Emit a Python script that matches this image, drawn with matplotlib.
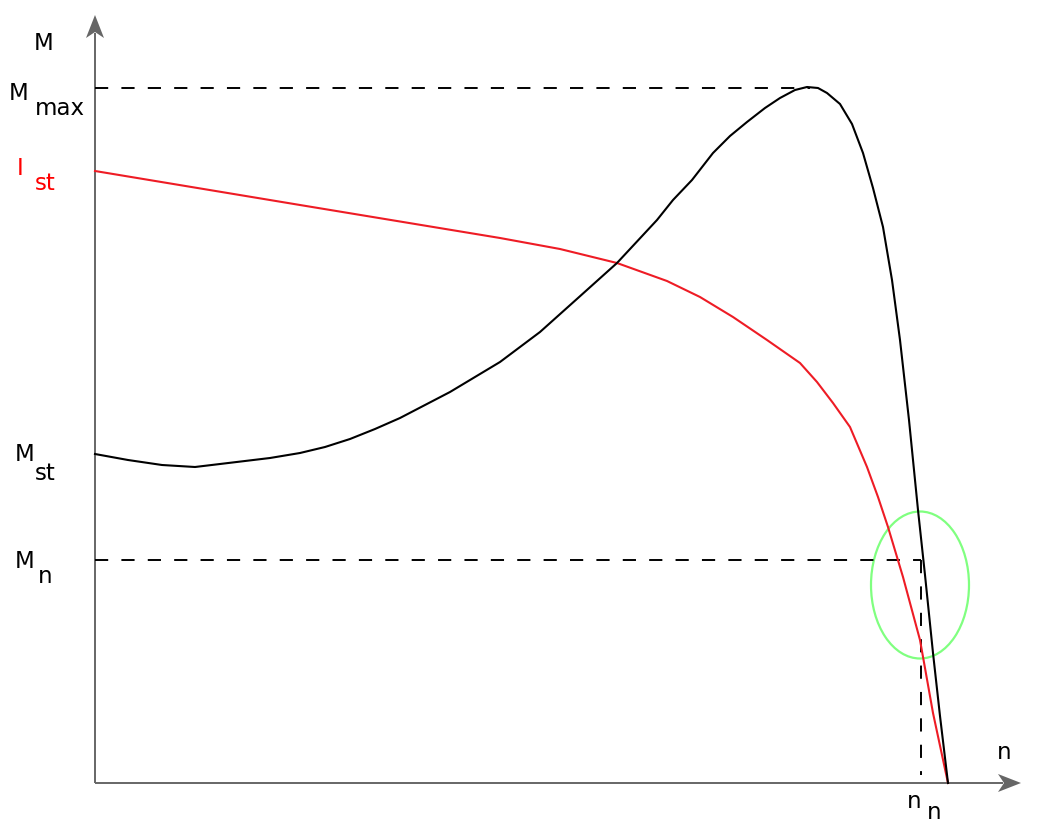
import matplotlib
matplotlib.use("Agg")
import matplotlib.pyplot as plt
from matplotlib.patches import Ellipse, Polygon

plt.rcParams['font.family'] = ['DejaVu Sans']
plt.rcParams['lines.scale_dashes'] = False

# ---- data (speed n, torque M / current I) ----
torque_n = [0, 33, 67, 100, 150, 175, 205, 230, 255, 280, 305, 355, 405, 445,
            483, 522, 562, 578, 597, 618, 635, 652, 670, 685, 700, 712, 723,
            732, 745, 757, 768, 778, 788, 797, 805, 814, 823, 830, 838, 845, 853]
torque_M = [329, 323, 318, 316, 322, 325, 330, 336, 344, 354, 365, 391, 421, 451,
            485, 520, 563, 583, 603, 630, 647, 661, 675, 685, 693, 696, 695,
            690, 679, 659, 630, 595, 556, 503, 443, 363, 273, 208, 130, 67, 0]

current_n = [0, 205, 405, 465, 522, 572, 605, 638, 672, 705, 722, 738, 755,
             772, 783, 793, 808, 825, 838, 853]
current_M = [612, 578, 545, 534, 520, 502, 486, 466, 443, 420, 401, 380, 356,
             316, 286, 256, 206, 143, 70, 0]

M_max = 695
n_at_max = 715
M_n = 223
n_n = 826
n_axis_end = 926
M_axis_end = 768

fig = plt.figure(figsize=(10.39, 8.26), dpi=100)
ax = fig.add_axes([0, 0, 1, 1])
ax.set_xlim(-95, 944)
ax.set_ylim(-43, 783)
ax.axis('off')

def px(x, y):
    # convert a pixel position of the reference into data coordinates
    return x - 95, 783 - y

axis_col = '#666666'
ax.plot([0, n_axis_end - 18], [0, 0], color=axis_col, lw=1.4, solid_capstyle='butt')
ax.plot([0, 0], [0, M_axis_end - 18], color=axis_col, lw=1.4, solid_capstyle='butt')
ax.add_patch(Polygon([(n_axis_end, 0), (n_axis_end - 23, 9), (n_axis_end - 17, 0),
                      (n_axis_end - 23, -9)], closed=True, color=axis_col, lw=0))
ax.add_patch(Polygon([(0, M_axis_end), (9, M_axis_end - 23), (0, M_axis_end - 17),
                      (-9, M_axis_end - 23)], closed=True, color=axis_col, lw=0))

dash = (0, (9.5, 9.5))
ax.plot([0, n_at_max], [M_max, M_max], color='black', lw=1.4, linestyle=dash)
ax.plot([0, n_n], [M_n, M_n], color='black', lw=1.4, linestyle=dash)
ax.plot([n_n, n_n], [M_n, 8], color='black', lw=1.4, linestyle=dash)

ax.plot(current_n, current_M, color='#EE1C25', lw=1.5, solid_joinstyle='round')
ax.plot(torque_n, torque_M, color='black', lw=1.5, solid_joinstyle='round')

ax.add_patch(Ellipse((825, 198), 98, 147, fill=False, edgecolor='#80FF80', lw=1.6))

fs = 16.5
def txt(x, y, s, color='black'):
    ax.text(*px(x, y), s, fontsize=fs, color=color, ha='center', va='baseline')

txt(44, 50, 'M')
txt(19, 100, 'M')
txt(60, 115, 'max')
txt(20, 175, 'I', 'red')
txt(45, 190, 'st', 'red')
txt(24.5, 461, 'M')
txt(45, 480, 'st')
txt(24.5, 568, 'M')
txt(45, 583, 'n')
txt(1004.5, 759, 'n')
txt(914.5, 808, 'n')
txt(934.5, 819, 'n')

fig.savefig('out.png', dpi=100)
